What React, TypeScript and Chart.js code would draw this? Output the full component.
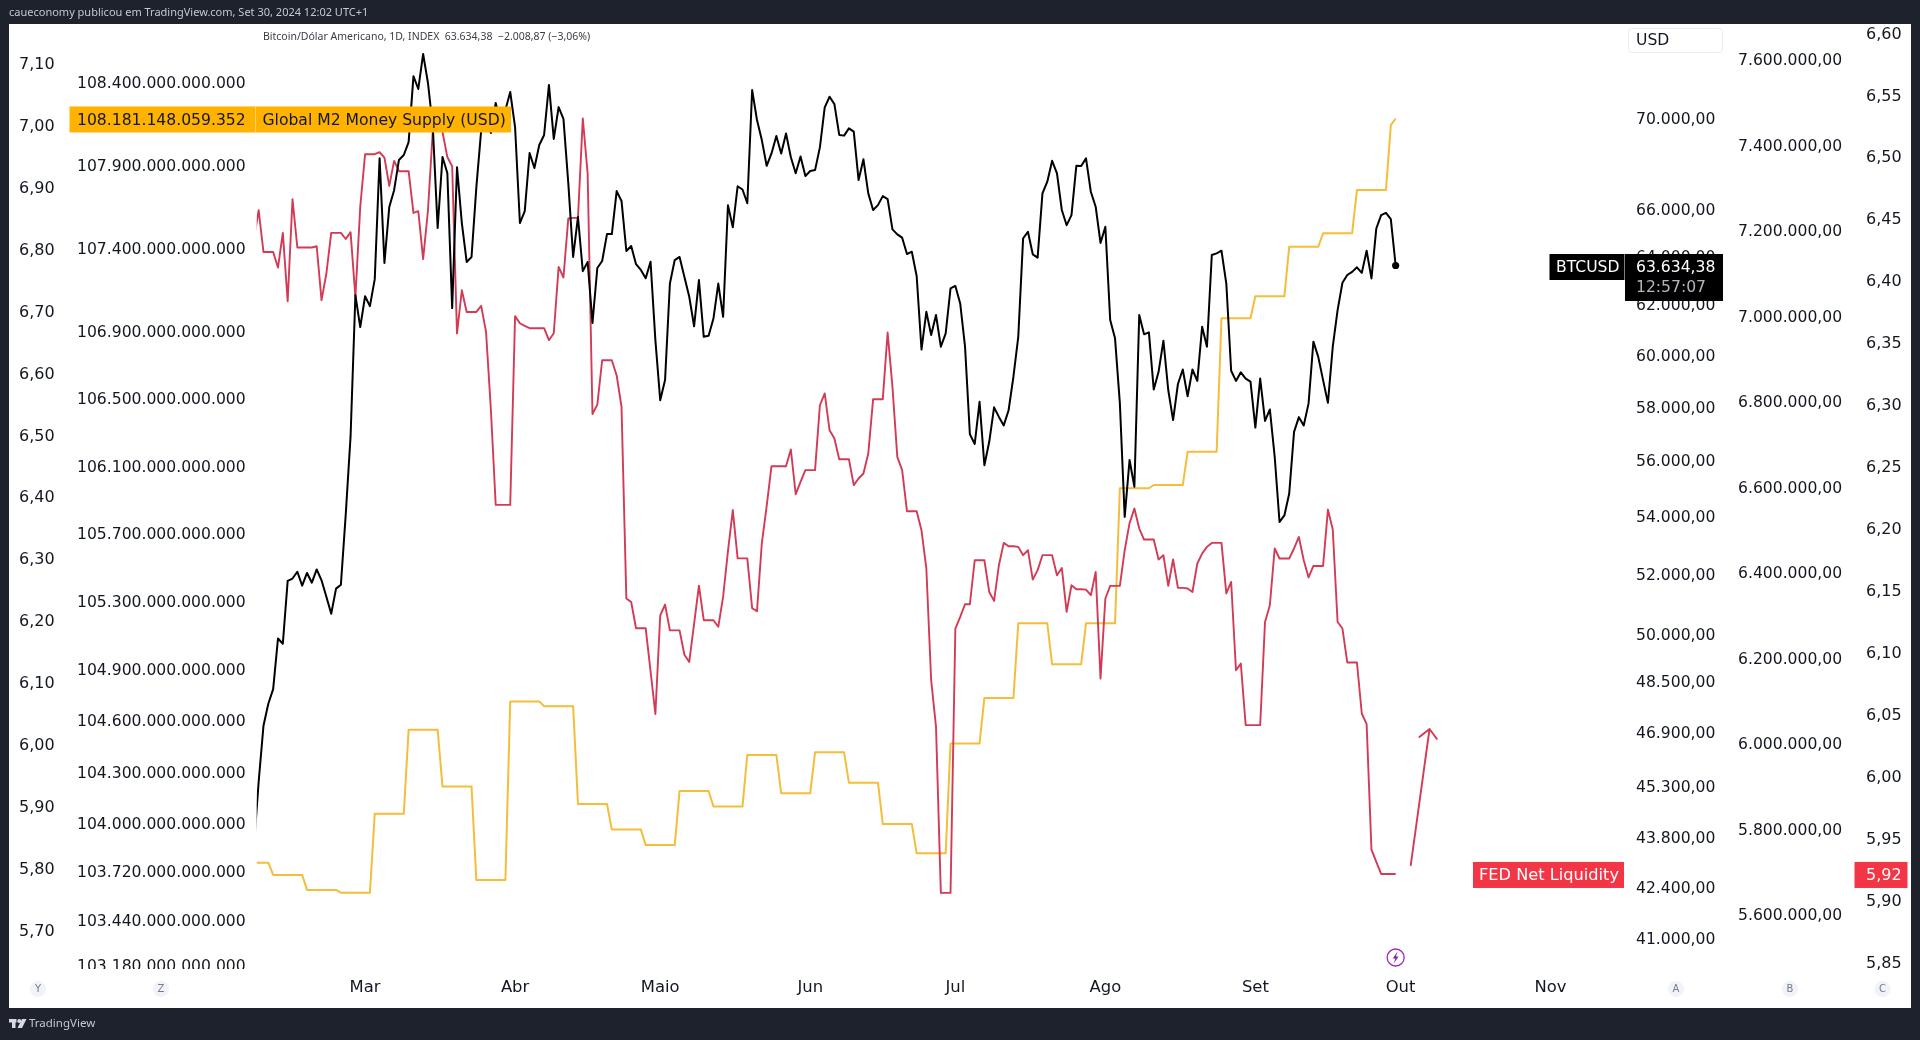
import React, { useEffect, useRef } from "react";
import { Chart, registerables } from "chart.js";

Chart.register(...registerables);

// ---- Data (x = days from 1 March 2024) ----
const FIRST_DAY = -23;
const btcValues = [
  43480, 45430, 47130, 47810, 48270, 49890, 49720, 51800, 51880, 52110, 51640, 52070, 51740, 52190, 51820, 51270, 50700, 51540, 51670, 54090, 56920,
  62420, 61130,
  62370, 61970, 63070, 68250, 63740, 66110, 66840, 68170, 68390, 68970,
  72000, 71400, 73050, 71680, 69650, 65210, 68300, 67590, 61890, 67850,
  65420, 63780, 63990, 66970, 69510, 70200, 69380, 70750, 69830, 70430,
  71260, 69650, 65420, 65930, 68480, 67810, 68840, 69290, 71590, 69110,
  70560, 70020, 67150, 63990, 65680, 63400, 63780, 61290, 63530, 63820,
  64950, 64950, 66800, 66370, 64240, 64450, 63690, 63450, 63110, 63790,
  60610, 58280, 59050, 62890, 63860, 63990, 63160, 62350, 61160, 63030,
  60740, 60780, 61470, 62890, 61540, 66190, 65240, 67010, 66870, 66270,
  71350, 69970, 69060, 67910, 68460, 69240, 68460, 69360, 68290, 67580,
  68320, 67460, 67680, 67720, 68730, 70550, 71040, 70700, 69290, 69260,
  69590, 69440, 67280, 68200, 66700, 65980, 66190, 66580, 66450, 65150,
  64940, 64800, 64110, 64210, 63200, 60240, 61740, 60810, 61610, 60350,
  60880, 62690, 62790, 62080, 60350, 57000, 56640, 58220, 55860, 56720,
  58010, 57650, 57330, 57900, 59180, 60740, 64770, 65050, 64100, 63960,
  66700, 67210, 68130, 67580, 65980, 65330, 65760, 67910, 67900, 68240,
  66770, 66120, 64580, 65260, 61410, 60680, 58160, 54010, 56050, 55080,
  61610, 60840, 60920, 58690, 59370, 60590, 58670, 57530, 58900, 59460,
  58430, 59460, 59020, 61140, 60350, 64070, 64140, 64250, 62890, 59410,
  59020, 59350, 59110, 58990, 57250, 59110, 57500, 57930, 56170, 53830,
  54060, 54840, 57090, 57640, 57330, 58160, 60550, 59950, 59050, 58180,
  60350, 61810, 62920, 63240, 63370, 63560, 63330, 64250, 63100, 65190,
  65760, 65860, 65590, 63634.38,
];
const fedValues = [
  6.4315, 6.4557, 6.422, 6.422, 6.422, 6.4094, 6.4374, 6.3822, 6.4646, 6.4256, 6.4256, 6.4256, 6.4256, 6.4266, 6.3831, 6.4046, 6.4374, 6.4374, 6.4374, 6.4325, 6.438, 6.3857, 6.4584,
  6.5009, 6.5009, 6.5009, 6.5025, 6.4982, 6.4753, 6.4955, 6.4872, 6.4872, 6.4872,
  6.4535, 6.4549, 6.4162, 6.4557, 6.5203, 6.5364, 6.5189, 6.4987, 6.4912, 6.3562,
  6.3911, 6.3736, 6.3736, 6.3736, 6.3785, 6.3575, 6.295, 6.2179, 6.2179, 6.2179,
  6.2179, 6.3702, 6.3645, 6.3623, 6.3605, 6.3605, 6.3605, 6.3605, 6.3508, 6.3564,
  6.4099, 6.4014, 6.449, 6.4495, 6.4495, 6.5297, 6.4853, 6.2912, 6.2988, 6.3346,
  6.3346, 6.3346, 6.3223, 6.2971, 6.1424, 6.1395, 6.1183, 6.1183, 6.1183, 6.0837,
  6.0491, 6.1286, 6.1374, 6.1166, 6.1166, 6.1166, 6.0969, 6.0911, 6.1219, 6.1527,
  6.1248, 6.1248, 6.1248, 6.1195, 6.1438, 6.1806, 6.2137, 6.1747, 6.1747, 6.1747,
  6.1345, 6.1321, 6.1869, 6.2168, 6.2491, 6.2491, 6.2491, 6.2491, 6.2626, 6.2265,
  6.2364, 6.2459, 6.2459, 6.2459, 6.2983, 6.3078, 6.2781, 6.2714, 6.2547, 6.2547,
  6.2547, 6.2338, 6.2392, 6.2432, 6.2593, 6.3032, 6.3032, 6.3032, 6.357, 6.3131,
  6.2566, 6.2459, 6.2128, 6.2128, 6.2128, 6.1974, 6.1668, 6.0764, 6.0387, 5.9047,
  5.9047, 5.9047, 6.1181, 6.1275, 6.1377, 6.1377, 6.1732, 6.1732, 6.1732, 6.1476,
  6.1404, 6.1692, 6.1872, 6.1845, 6.1845, 6.184, 6.1773, 6.1813, 6.1576, 6.1652,
  6.1773, 6.1773, 6.1773, 6.1611, 6.167, 6.1315, 6.153, 6.1498, 6.1498, 6.1495,
  6.145, 6.1638, 6.0777, 6.1423, 6.1525, 6.1525, 6.1525, 6.1813, 6.2031, 6.2149,
  6.1988, 6.1899, 6.1899, 6.1899, 6.1738, 6.1773, 6.1525, 6.1738, 6.1509, 6.1509,
  6.1504, 6.1476, 6.1706, 6.1786, 6.184, 6.1872, 6.1872, 6.1872, 6.1464, 6.1557,
  6.0844, 6.0898, 6.0401, 6.0401, 6.0401, 6.0401, 6.1234, 6.1369, 6.1827, 6.1746,
  6.1746, 6.1746, 6.1827, 6.192, 6.1732, 6.1593, 6.1686, 6.1686, 6.1686, 6.2141,
  6.198, 6.1234, 6.1181, 6.0907, 6.0907, 6.0907, 6.0495, 6.0409, 5.9397, 5.9297,
  5.92, 5.92, 5.92, 5.92,
];
const m2Days = [
  -23, -20, -19, -13, -12, -6, -5, 1, 2, 8, 9, 15, 16, 22, 23, 29, 30, 36, 37, 43, 44, 50, 51, 57, 58, 64, 65, 71, 72, 78, 79, 85, 86, 92,
  93, 99, 100, 106, 107, 113, 114, 120, 121, 127, 128, 134, 135, 141, 142, 148, 149, 155, 156, 162, 163, 169, 170, 176, 177, 183, 184, 190,
  191, 197, 198, 204, 205, 211, 212, 213,
];
// trillions of USD
const m2Values = [
  103.773, 103.773, 103.702, 103.702, 103.615, 103.615, 103.599, 103.599, 104.057, 104.057, 104.547, 104.547, 104.216, 104.216, 103.672, 103.672,
  104.712, 104.712, 104.685, 104.685, 104.114, 104.114, 103.965, 103.965, 103.875, 103.875, 104.19, 104.19, 104.1, 104.1, 104.4, 104.4,
  104.177, 104.177, 104.415, 104.415, 104.238, 104.238, 103.998, 103.998, 103.828, 103.828, 104.467, 104.467, 104.733, 104.733, 105.171, 105.171,
  104.93, 104.93, 105.171, 105.171, 105.968, 105.968, 105.987, 105.987, 106.184, 106.184, 106.98, 106.98, 107.112, 107.112, 107.408, 107.408,
  107.489, 107.489, 107.75, 107.75, 108.141, 108.181148,
];
const arrowDays = [216.1, 220, 217.9, 220, 221.6];
const arrowValues = [5.9265, 6.037, 6.0306, 6.037, 6.0285];

const monthDays = [0, 31, 61, 92, 122, 153, 184, 214, 245];
const monthLabels = ["Mar", "Abr", "Maio", "Jun", "Jul", "Ago", "Set", "Out", "Nov"];

const yTicks = [7.1, 7.0, 6.9, 6.8, 6.7, 6.6, 6.5, 6.4, 6.3, 6.2, 6.1, 6.0, 5.9, 5.8, 5.7];
const yLabels = ["7,10", "7,00", "6,90", "6,80", "6,70", "6,60", "6,50", "6,40", "6,30", "6,20", "6,10", "6,00", "5,90", "5,80", "5,70"];
const zTicks = [108.4, 107.9, 107.4, 106.9, 106.5, 106.1, 105.7, 105.3, 104.9, 104.6, 104.3, 104.0, 103.72, 103.44, 103.18];
const zLabels = [
  "108.400.000.000.000", "107.900.000.000.000", "107.400.000.000.000", "106.900.000.000.000", "106.500.000.000.000",
  "106.100.000.000.000", "105.700.000.000.000", "105.300.000.000.000", "104.900.000.000.000", "104.600.000.000.000",
  "104.300.000.000.000", "104.000.000.000.000", "103.720.000.000.000", "103.440.000.000.000", "103.180.000.000.000",
];
const aTicks = [70000, 66000, 64000, 62000, 60000, 58000, 56000, 54000, 52000, 50000, 48500, 46900, 45300, 43800, 42400, 41000];
const aLabels = [
  "70.000,00", "66.000,00", "64.000,00", "62.000,00", "60.000,00", "58.000,00", "56.000,00", "54.000,00",
  "52.000,00", "50.000,00", "48.500,00", "46.900,00", "45.300,00", "43.800,00", "42.400,00", "41.000,00",
];
const bTicks = [7.6, 7.4, 7.2, 7.0, 6.8, 6.6, 6.4, 6.2, 6.0, 5.8, 5.6];
const bLabels = [
  "7.600.000,00", "7.400.000,00", "7.200.000,00", "7.000.000,00", "6.800.000,00", "6.600.000,00",
  "6.400.000,00", "6.200.000,00", "6.000.000,00", "5.800.000,00", "5.600.000,00",
];
const cTicks = [6.6, 6.55, 6.5, 6.45, 6.4, 6.35, 6.3, 6.25, 6.2, 6.15, 6.1, 6.05, 6.0, 5.95, 5.9, 5.85];
const cLabels = ["6,60", "6,55", "6,50", "6,45", "6,40", "6,35", "6,30", "6,25", "6,20", "6,15", "6,10", "6,05", "6,00", "5,95", "5,90", "5,85"];

const headerText = "caueconomy publicou em TradingView.com, Set 30, 2024 12:02 UTC+1";
const legendText = "Bitcoin/Dólar Americano, 1D, INDEX  63.634,38  −2.008,87 (−3,06%)";
const m2Tag = "Global M2 Money Supply (USD)";
const m2Price = "108.181.148.059.352";
const fedTag = "FED Net Liquidity";
const fedPrice = "5,92";
const btcTag = "BTCUSD";
const btcPrice = "63.634,38";
const btcCountdown = "12:57:07";
const currency = "USD";
const footerText = "TradingView";
const badges: [string, number][] = [["Y", 38], ["Z", 161], ["A", 1676], ["B", 1790], ["C", 1882.5]];

// ---- Styling ----
const FONT = '"DejaVu Sans", sans-serif';
const SMALL_FONT = '"Noto Sans", sans-serif';
const TICK_SIZE = 15.6;
const INK = "#131722";
const DARK = "#1e222d";
const RED = "#d23a55";
const YELLOW = "#f4bd3a";
const TAG_YELLOW = "#ffb300";
const TAG_RED = "#f23645";

function fixedTicks(values: number[]) {
  return (s: any) => {
    s.ticks = values.map((value) => ({ value }));
  };
}
function yScale(type: string, position: string, weight: number, width: number, min: number, max: number, values: number[], labels: string[], size: number, shift: number) {
  return {
    type,
    position,
    weight,
    min,
    max,
    bounds: "data",
    grid: { display: false, drawTicks: false },
    border: { display: false },
    afterFit: (s: any) => {
      s.width = width;
    },
    afterBuildTicks: fixedTicks(values),
    ticks: {
      autoSkip: false,
      color: INK,
      padding: position === "right" ? 11 : 0,
      crossAlign: position === "right" ? "near" : "far",
      labelOffset: shift,
      font: { family: FONT, size },
      callback: (_v: any, i: number) => labels[i],
    },
  };
}

const chrome = {
  id: "chrome",
  beforeDraw(c: any) {
    const x = c.ctx;
    x.save();
    x.fillStyle = DARK;
    x.fillRect(0, 0, 1920, 1040);
    x.fillStyle = "#ffffff";
    x.fillRect(9, 24, 1902, 984);
    x.font = `11px ${SMALL_FONT}`;
    x.fillStyle = "#c4c7cf";
    x.textBaseline = "middle";
    x.textAlign = "left";
    x.fillText(headerText, 9, 13);
    x.restore();
  },
  afterDraw(c: any) {
    const x = c.ctx;
    const lab = (t: string, px: number, py: number, font: string, col: string, al = "left") => {
      x.font = font;
      x.fillStyle = col;
      x.textAlign = al;
      x.textBaseline = "middle";
      x.fillText(t, px, py);
    };
    x.save();
    // clip the lowest Z label at the pane edge
    x.fillStyle = "#ffffff";
    x.fillRect(70, 969, 186, 8);
    // legend
    lab(legendText, 263, 37.5, `10.5px ${SMALL_FONT}`, "#3a3d45");
    // Global M2 tag
    const yM = c.scales.m2.getPixelForValue(m2Values[m2Values.length - 1]);
    x.fillStyle = TAG_YELLOW;
    x.fillRect(69.5, yM - 12, 441.5, 26);
    x.fillStyle = "#ffd36b";
    x.fillRect(255, yM - 12, 1, 26);
    lab(m2Price, 77, yM + 2.5, `${TICK_SIZE}px ${FONT}`, INK);
    lab(m2Tag, 262.5, yM + 2, `${TICK_SIZE}px ${FONT}`, INK);
    // BTC tag
    const yB = c.scales.btc.getPixelForValue(btcValues[btcValues.length - 1]);
    x.fillStyle = "#000000";
    x.fillRect(1549.5, yB - 11.5, 75, 26);
    x.fillRect(1625, yB - 11.5, 98, 47);
    lab(btcTag, 1556, yB + 2.5, `${TICK_SIZE}px ${FONT}`, "#ffffff");
    lab(btcPrice, 1636, yB + 2.5, `${TICK_SIZE}px ${FONT}`, "#ffffff");
    lab(btcCountdown, 1636, yB + 22.5, `${TICK_SIZE}px ${FONT}`, "#b2b5be");
    // FED tag
    const yF = c.scales.fed.getPixelForValue(fedValues[fedValues.length - 1]);
    x.fillStyle = TAG_RED;
    x.fillRect(1473, yF - 12, 151, 26);
    x.fillRect(1854.5, yF - 12, 53, 26);
    lab(fedTag, 1479, yF + 1.5, `16.2px ${FONT}`, "#ffffff");
    lab(fedPrice, 1866, yF + 1.5, `16px ${FONT}`, "#ffffff");
    // Currency box
    x.strokeStyle = "#e9ecf2";
    x.lineWidth = 1;
    x.beginPath();
    x.roundRect(1628.5, 28.5, 94, 24, 3);
    x.stroke();
    lab(currency, 1636, 41, `${TICK_SIZE}px ${FONT}`, INK);
    // Axis badges
    for (const [t, px] of badges) {
      x.fillStyle = "#f0f3fa";
      x.beginPath();
      x.arc(px, 989, 8, 0, Math.PI * 2);
      x.fill();
      lab(t, px, 989.5, `10px ${FONT}`, "#787b86", "center");
    }
    // Event marker
    const ex = c.scales.x.getPixelForValue(213);
    x.strokeStyle = "#9c27b0";
    x.lineWidth = 1.3;
    x.beginPath();
    x.arc(ex, 957.5, 8.5, 0, Math.PI * 2);
    x.stroke();
    x.fillStyle = "#7b2d9b";
    x.beginPath();
    x.moveTo(ex + 2, 951.5);
    x.lineTo(ex - 3, 958.5);
    x.lineTo(ex - 0.3, 958.5);
    x.lineTo(ex - 2, 963.5);
    x.lineTo(ex + 3, 956.5);
    x.lineTo(ex + 0.3, 956.5);
    x.closePath();
    x.fill();
    // Footer logo and word
    x.fillStyle = "#d9dae0";
    x.fillRect(9, 1019, 7.5, 3.5);
    x.fillRect(12, 1019, 3.5, 9);
    x.beginPath();
    x.arc(19.2, 1021, 2, 0, Math.PI * 2);
    x.fill();
    x.beginPath();
    x.moveTo(22, 1019);
    x.lineTo(26.5, 1019);
    x.lineTo(22, 1028);
    x.lineTo(17.5, 1028);
    x.closePath();
    x.fill();
    lab(footerText, 29, 1024, `11.5px ${SMALL_FONT}`, "#c4c7cf");
    x.restore();
  },
};

export default function App() {
  const ref = useRef<HTMLCanvasElement | null>(null);
  useEffect(() => {
    if (!ref.current) return;
    const daily = (vals: number[]) => vals.map((y, i) => ({ x: FIRST_DAY + i, y }));
    const chart = new Chart(ref.current, {
      type: "line",
      plugins: [chrome],
      data: {
        datasets: [
          {
            label: m2Tag,
            yAxisID: "m2",
            data: m2Days.map((x, i) => ({ x, y: m2Values[i] })),
            borderColor: YELLOW,
            borderWidth: 2,
            borderJoinStyle: "round",
            pointRadius: 0,
            tension: 0,
            order: 3,
          },
          {
            label: fedTag,
            yAxisID: "fed",
            data: daily(fedValues),
            borderColor: RED,
            borderWidth: 1.9,
            borderJoinStyle: "round",
            pointRadius: 0,
            tension: 0,
            order: 2,
          },
          {
            label: "Seta",
            yAxisID: "fed",
            data: arrowDays.map((x, i) => ({ x, y: arrowValues[i] })),
            borderColor: RED,
            borderWidth: 1.9,
            borderJoinStyle: "round",
            pointRadius: 0,
            tension: 0,
            order: 2,
          },
          {
            label: btcTag,
            yAxisID: "btc",
            data: daily(btcValues),
            borderColor: "#000000",
            backgroundColor: "#000000",
            borderWidth: 2,
            borderJoinStyle: "round",
            pointRadius: (ctx: any) => (ctx.dataIndex === btcValues.length - 1 ? 2.6 : 0),
            tension: 0,
            order: 1,
          },
        ],
      },
      options: {
        responsive: false,
        animation: false,
        events: [],
        layout: { padding: { left: 19, right: 9, top: 24, bottom: 32 } },
        plugins: { legend: { display: false }, tooltip: { enabled: false } },
        scales: {
          x: {
            type: "linear",
            min: -22.4,
            max: 260.4,
            bounds: "data",
            grid: { display: false, drawTicks: false },
            border: { display: false },
            afterFit: (s: any) => {
              s.height = 39;
            },
            afterBuildTicks: fixedTicks(monthDays),
            ticks: {
              autoSkip: false,
              maxRotation: 0,
              color: INK,
              padding: 9,
              font: { family: FONT, size: 16.4 },
              callback: (_v: any, i: number) => monthLabels[i],
            },
          },
          m2: yScale("logarithmic", "left", 0, 179.7, 103.158, 108.754, zTicks, zLabels, TICK_SIZE, 1.5),
          yAxis: yScale("linear", "left", 1, 58, 5.6375, 7.1635, yTicks, yLabels, 16, 1.5),
          btc: yScale("logarithmic", "right", 0, 102, 40214, 74492, aTicks, aLabels, TICK_SIZE, 1),
          bAxis: yScale("linear", "right", 1, 128, 5.4737, 7.6842, bTicks, bLabels, TICK_SIZE, 1.2),
          fed: yScale("linear", "right", 2, 56, 5.8433, 6.606, cTicks, cLabels, 16, 3),
        },
      },
    } as any);
    return () => chart.destroy();
  }, []);
  return <canvas ref={ref} width={1920} height={1040} style={{ position: "fixed", left: 0, top: 0, width: 1920, height: 1040 }} />;
}
